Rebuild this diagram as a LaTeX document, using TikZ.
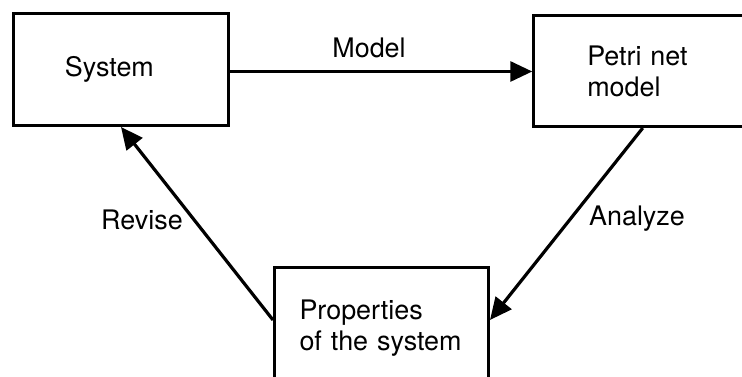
\documentclass[tikz,border=0pt]{standalone}
\usepackage{fontspec}
\setmainfont{TeX Gyre Heros}
\usetikzlibrary{arrows.meta}
\tikzset{
  blk/.style={draw, line width=1.5bp, align=left, inner ysep=0pt},
  flow/.style={-{Triangle[length=11bp, width=10bp]}, line width=1.6bp},
}

\begin{document}
\begin{tikzpicture}[x=0.5bp, y=-0.5bp, font=\fontsize{13.5}{15.5}\selectfont]
  \useasboundingbox (0,0) rectangle (742,377);
  % the three boxes
  \node (sys) [blk, text width=56bp, inner xsep=25.75bp, minimum height=56bp] at (121,69.5) {System};
  \node (pn) [blk, text width=55.5bp, inner xsep=26.75bp, minimum height=55.5bp] at (642.75,71) {Petri net\\model};
  \node (prop) [blk, text width=82bp, inner xsep=12.5bp, minimum height=60.5bp] at (381.5,328) {Properties\\of the system};
  % the cycle
  \draw[flow] ([yshift=-1bp]sys.east) -- node[above=2.5bp, pos=0.46]{Model} ([yshift=-1bp]sys.east -| pn.west);
  \draw[flow] (pn.south) -- node[right=5bp, pos=0.47]{Analyze} ([yshift=4bp]prop.east);
  \draw[flow] ([yshift=4bp]prop.west) -- node[left=1.5bp, pos=0.52]{Revise} (sys.south);
\end{tikzpicture}
\end{document}
